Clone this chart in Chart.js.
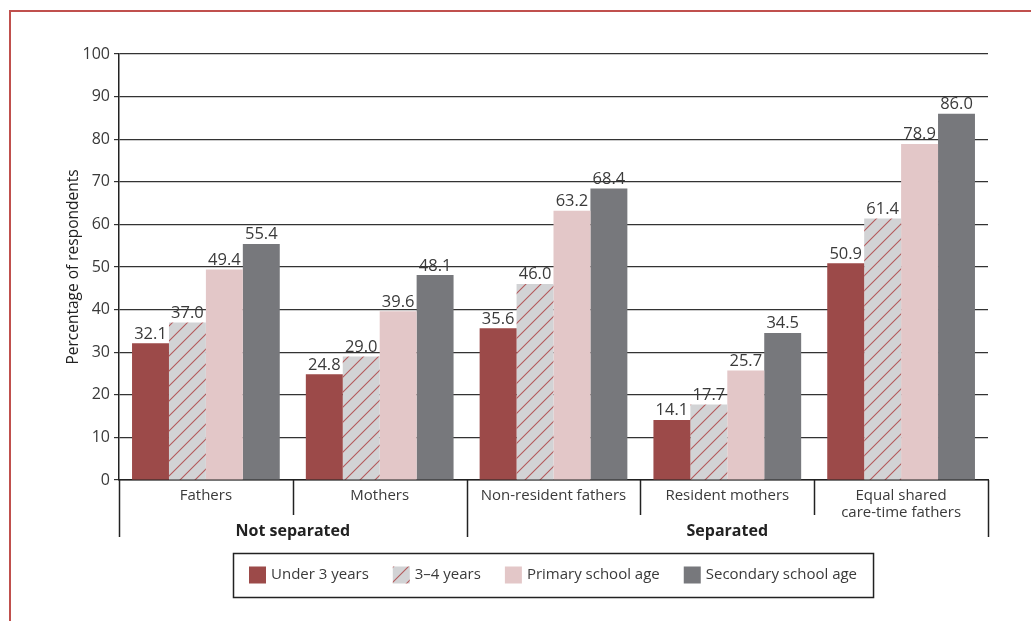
<!DOCTYPE html>
<html>
<head>
<meta charset="utf-8">
<script src="https://cdn.jsdelivr.net/npm/chart.js@4"></script>
<style>
  html, body { margin: 0; padding: 0; background: #fff; }
  #wrap { position: relative; width: 1031px; height: 621px; }
  #frame { position: absolute; left: 9px; top: 10px; right: 0; bottom: 0;
           border-top: 2px solid #c0504d; border-left: 2px solid #c0504d; }
  canvas { position: absolute; left: 0; top: 0; }
</style>
</head>
<body>
<div id="wrap">
  <div id="frame"></div>
  <canvas id="myChart" width="1031" height="621"></canvas>
</div>
<script>
var categories = ["Fathers", "Mothers", "Non-resident fathers", "Resident mothers", ["Equal shared", "care-time fathers"]];
var groups = [
    { label: "Not separated", from: 0, to: 2 },
    { label: "Separated", from: 2, to: 5 }
];
var under3 = [32.1, 24.8, 35.6, 14.1, 50.9];
var age3to4 = [37.0, 29.0, 46.0, 17.7, 61.4];
var primary = [49.4, 39.6, 63.2, 25.7, 78.9];
var secondary = [55.4, 48.1, 68.4, 34.5, 86.0];
var yTicks = [0, 10, 20, 30, 40, 50, 60, 70, 80, 90, 100];

var textColor = "#3a3a3a";
var fontFamily = "'Open Sans', 'Noto Sans', sans-serif";

// diagonal red hatch on light grey for the 3-4 years bars
function makeHatch() {
    var c = document.createElement("canvas");
    c.width = 15; c.height = 15;
    var g = c.getContext("2d");
    g.fillStyle = "#d2d3d5";
    g.fillRect(0, 0, 15, 15);
    g.strokeStyle = "#b35b5c";
    g.lineWidth = 1.1;
    g.beginPath();
    g.moveTo(-1, 16); g.lineTo(16, -1);
    g.moveTo(-1, 1); g.lineTo(1, -1);
    g.moveTo(14, 16); g.lineTo(16, 14);
    g.stroke();
    return g.createPattern(c, "repeat");
}
var hatch = makeHatch();

var data = {
    labels: categories,
    datasets: [
        { label: "Under 3 years", data: under3, backgroundColor: "#9c4a49" },
        { label: "3\u20134 years", data: age3to4, backgroundColor: hatch },
        { label: "Primary school age", data: primary, backgroundColor: "#e3c7c8" },
        { label: "Secondary school age", data: secondary, backgroundColor: "#77787c" }
    ]
};

// value above each bar
var valueLabels = {
    id: "valueLabels",
    afterDatasetsDraw: function (chart) {
        var ctx = chart.ctx;
        ctx.save();
        ctx.font = "16.5px " + fontFamily;
        ctx.fillStyle = textColor;
        ctx.textAlign = "center";
        ctx.textBaseline = "bottom";
        chart.data.datasets.forEach(function (ds, i) {
            chart.getDatasetMeta(i).data.forEach(function (bar, j) {
                ctx.fillText(ds.data[j].toFixed(1), bar.x, bar.y - 1);
            });
        });
        ctx.restore();
    }
};

// category separators, group labels and legend box
var axisExtras = {
    id: "axisExtras",
    afterDraw: function (chart) {
        var ctx = chart.ctx;
        var area = chart.chartArea;
        var step = (area.right - area.left) / categories.length;
        var longLines = [0, 2, 5];
        ctx.save();
        ctx.strokeStyle = "#222";
        ctx.lineWidth = 1.5;
        for (var i = 0; i <= categories.length; i++) {
            var px = Math.round(area.left + i * step) + 0.5;
            ctx.beginPath();
            ctx.moveTo(px, area.bottom);
            ctx.lineTo(px, area.bottom + (longLines.indexOf(i) >= 0 ? 57 : 35));
            ctx.stroke();
        }
        ctx.font = "bold 16px " + fontFamily;
        ctx.fillStyle = "#222";
        ctx.textAlign = "center";
        ctx.textBaseline = "middle";
        groups.forEach(function (g) {
            var cx = area.left + (g.from + g.to) / 2 * step;
            ctx.fillText(g.label, cx, area.bottom + 51);
        });

        // legend
        var ds = chart.data.datasets;
        ctx.font = "15px " + fontFamily;
        var sw = 17, gapText = 5, gapItem = 24, padX = 16;
        var total = 0;
        ds.forEach(function (d, i) {
            total += sw + gapText + ctx.measureText(d.label).width + (i < ds.length - 1 ? gapItem : 0);
        });
        var boxW = total + padX * 2;
        var boxL = Math.round((area.left + area.right) / 2 - boxW / 2);
        var boxT = 553, boxH = 44;
        ctx.lineWidth = 1.5;
        ctx.strokeStyle = "#222";
        ctx.strokeRect(boxL + 0.5, boxT + 0.5, boxW, boxH);
        var cx = boxL + padX;
        var cy = boxT + boxH / 2;
        ctx.textAlign = "left";
        ds.forEach(function (d) {
            ctx.fillStyle = d.backgroundColor;
            ctx.fillRect(cx, cy - sw / 2, sw, sw);
            cx += sw + gapText;
            ctx.fillStyle = textColor;
            ctx.fillText(d.label, cx, cy);
            cx += ctx.measureText(d.label).width + gapItem;
        });
        ctx.restore();
    }
};

var options = {
    responsive: false,
    animation: false,
    layout: { padding: { left: 60, top: 54, right: 43, bottom: 0 } },
    plugins: { legend: { display: false }, tooltip: { enabled: false } },
    datasets: { bar: { barPercentage: 1, categoryPercentage: 0.85, borderWidth: 0 } },
    scales: {
        x: {
            grid: { display: false, drawTicks: false },
            border: { display: true, color: "#222", width: 1.5 },
            ticks: { color: textColor, font: { family: fontFamily, size: 15, lineHeight: 1.15 },
                     padding: 7, maxRotation: 0, autoSkip: false },
            afterFit: function (scale) { scale.height = 141; }
        },
        y: {
            min: 0,
            max: 100,
            afterBuildTicks: function (scale) {
                scale.ticks = yTicks.map(function (v) { return { value: v }; });
            },
            grid: { color: "#333", lineWidth: 1.2, tickLength: 5 },
            border: { display: true, color: "#222", width: 1.5 },
            ticks: { color: textColor, font: { family: fontFamily, size: 16 }, padding: 4 },
            title: { display: true, text: "Percentage of respondents", color: "#222",
                     font: { family: fontFamily, size: 15.5 }, padding: { top: 4, bottom: 0 } },
            afterFit: function (scale) { scale.width = 59; }
        }
    }
};

var ctx = document.getElementById('myChart').getContext('2d');
var chart = new Chart(ctx, {
    type: 'bar',
    data,
    options,
    plugins: [valueLabels, axisExtras]
});
</script>
</body>
</html>
